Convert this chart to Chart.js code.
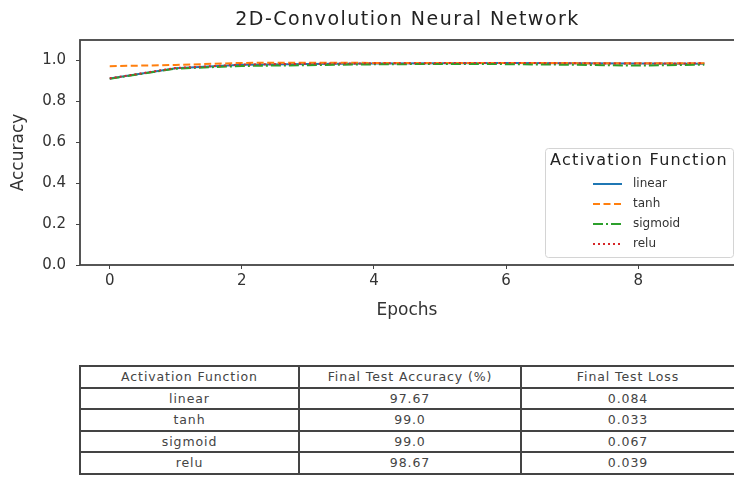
<!DOCTYPE html>
<html>
<head>
<meta charset="utf-8">
<script src="https://cdn.jsdelivr.net/npm/chart.js@4.4.1/dist/chart.umd.min.js"></script>
<style>
  html, body { margin: 0; padding: 0; background: #fff; }
  body { width: 734px; height: 479px; position: relative; overflow: hidden; font-family: "DejaVu Sans", sans-serif; }
  #plot { position: absolute; left: 0; top: 0; width: 734px; height: 335px; }
  #results { position: absolute; left: 79px; top: 365px; width: 655px; border-collapse: collapse; table-layout: fixed; }
  #results td { border: 2px solid #444; height: 21.5px; padding: 0; text-align: center; font-size: 12.5px; letter-spacing: 0.9px; color: #444; line-height: 19px; box-sizing: border-box; }
</style>
</head>
<body>
<div id="plot"><canvas id="c"></canvas></div>
<table id="results"></table>
<script>
// Training accuracy per epoch for each activation function
const epochs = [0, 1, 2, 3, 4, 5, 6, 7, 8, 9];
const linearAcc  = [0.912, 0.962, 0.979, 0.983, 0.985, 0.986, 0.987, 0.986, 0.985, 0.984];
const tanhAcc    = [0.972, 0.978, 0.988, 0.989, 0.988, 0.988, 0.988, 0.987, 0.986, 0.986];
const sigmoidAcc = [0.910, 0.960, 0.973, 0.977, 0.981, 0.983, 0.982, 0.979, 0.975, 0.979];
const reluAcc    = [0.913, 0.963, 0.980, 0.984, 0.986, 0.987, 0.988, 0.986, 0.985, 0.986];

const xTicks = [0, 2, 4, 6, 8];
const yTicks = [0.0, 0.2, 0.4, 0.6, 0.8, 1.0];

// Summary table
const tableHeader = ["Activation Function", "Final Test Accuracy (%)", "Final Test Loss"];
const activationNames = ["linear", "tanh", "sigmoid", "relu"];
const finalAccuracy = ["97.67", "99.0", "99.0", "98.67"];
const finalLoss = ["0.084", "0.033", "0.067", "0.039"];

const FONT = '"DejaVu Sans", sans-serif';

function pts(ys) { return epochs.map((x, i) => ({ x: x, y: ys[i] })); }

const datasets = [
  { label: 'linear',  data: pts(linearAcc),  borderColor: '#1f77b4', borderDash: [], order: 4 },
  { label: 'tanh',    data: pts(tanhAcc),    borderColor: '#ff7f0e', borderDash: [7, 3.5], order: 3 },
  { label: 'sigmoid', data: pts(sigmoidAcc), borderColor: '#2ca02c', borderDash: [10, 3, 2, 3], order: 2 },
  { label: 'relu',    data: pts(reluAcc),    borderColor: '#d62728', borderDash: [2, 3], order: 1 }
].map(d => Object.assign(d, { borderWidth: 2, pointRadius: 0, tension: 0, fill: false }));

// Axes frame, title and legend box drawn around the plotting area
const decorations = {
  id: 'decorations',
  afterDraw(chart) {
    const ctx = chart.ctx, a = chart.chartArea;
    ctx.save();
    ctx.strokeStyle = '#444';
    ctx.lineWidth = 1.8;
    ctx.strokeRect(a.left, a.top, a.right - a.left + 4, a.bottom - a.top);

    // title
    ctx.fillStyle = '#222';
    ctx.font = '19px ' + FONT;
    ctx.letterSpacing = '1.5px';
    ctx.textAlign = 'center';
    ctx.textBaseline = 'middle';
    ctx.fillText('2D-Convolution Neural Network', (a.left + 735) / 2, 20);

    // legend
    const bx = 545, by = 148, bw = 188, bh = 109;
    ctx.fillStyle = 'rgba(255,255,255,0.85)';
    ctx.strokeStyle = '#d4d4d4';
    ctx.lineWidth = 1;
    ctx.beginPath();
    ctx.roundRect(bx + 0.5, by + 0.5, bw, bh, 3);
    ctx.fill();
    ctx.stroke();
    ctx.fillStyle = '#222';
    ctx.font = '16px ' + FONT;
    ctx.letterSpacing = '1.3px';
    ctx.fillText('Activation Function', bx + bw / 2, by + 13);
    ctx.font = '12px ' + FONT;
    ctx.letterSpacing = '0px';
    ctx.textAlign = 'left';
    chart.data.datasets.forEach((ds, i) => {
      const y = by + 36 + i * 20;
      ctx.strokeStyle = ds.borderColor;
      ctx.lineWidth = 2;
      ctx.setLineDash(ds.borderDash);
      ctx.beginPath();
      ctx.moveTo(593, y);
      ctx.lineTo(622, y);
      ctx.stroke();
      ctx.setLineDash([]);
      ctx.fillStyle = '#333';
      ctx.fillText(ds.label, 633, y);
    });
    ctx.restore();
  }
};

new Chart(document.getElementById('c'), {
  type: 'line',
  data: { datasets: datasets },
  options: {
    responsive: true,
    maintainAspectRatio: false,
    animation: false,
    layout: { padding: { top: 40, right: 0, left: 0, bottom: 0 } },
    plugins: { legend: { display: false }, tooltip: { enabled: false }, title: { display: false } },
    scales: {
      x: {
        type: 'linear',
        min: -0.45,
        max: 9.45,
        afterBuildTicks: s => { s.ticks = xTicks.map(v => ({ value: v })); },
        afterFit: s => { s.height = 70; },
        ticks: { font: { family: FONT, size: 15 }, color: '#333', padding: 3, maxRotation: 0, autoSkip: false },
        grid: { drawOnChartArea: false, tickLength: 4, color: '#444', lineWidth: 1 },
        border: { display: false },
        title: { display: true, text: 'Epochs', font: { family: FONT, size: 17 }, color: '#333', padding: { top: 0, bottom: 14 } }
      },
      y: {
        type: 'linear',
        min: 0,
        max: 1.1,
        afterBuildTicks: s => { s.ticks = yTicks.map(v => ({ value: v })); },
        afterFit: s => { s.width = 80; },
        ticks: { font: { family: FONT, size: 15 }, color: '#333', padding: 10, callback: v => Number(v).toFixed(1) },
        grid: { drawOnChartArea: false, tickLength: 4, color: '#444', lineWidth: 1 },
        border: { display: false },
        title: { display: true, text: 'Accuracy', font: { family: FONT, size: 17 }, color: '#333', padding: { top: 8, bottom: 0 } }
      }
    }
  },
  plugins: [decorations]
});

// Build the results table from the arrays above
const table = document.getElementById('results');
const headRow = table.insertRow();
tableHeader.forEach(h => { headRow.insertCell().textContent = h; });
activationNames.forEach((name, i) => {
  const r = table.insertRow();
  [name, finalAccuracy[i], finalLoss[i]].forEach(v => { r.insertCell().textContent = v; });
});
const colWidths = [219, 222, 214];
Array.from(headRow.cells).forEach((c, i) => { c.style.width = colWidths[i] + 'px'; });
</script>
</body>
</html>
